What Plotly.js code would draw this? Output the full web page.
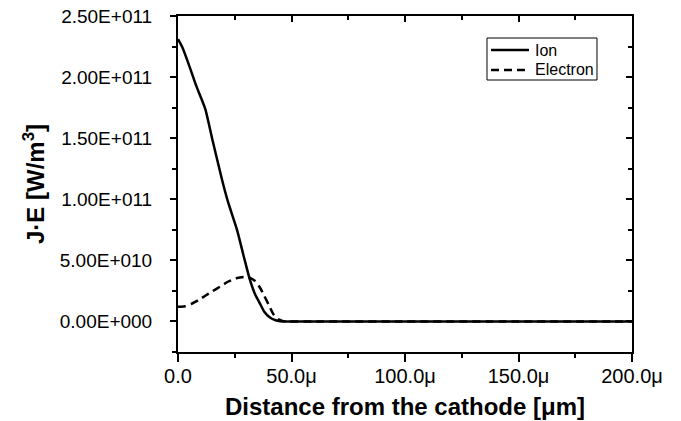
<!DOCTYPE html>
<html>
<head>
<meta charset="utf-8">
<script src="https://cdn.plot.ly/plotly-3.0.1.min.js"></script>
<style>html,body{margin:0;padding:0;background:#fff;}#chart{width:681px;height:421px;}</style>
</head>
<body>
<div id="chart"></div>
<script>
// Distance from cathode (µm) and J·E values (W/m^3)
const seriesNames = ["Ion", "Electron"];
const ionX = [0, 2, 5, 8, 12, 15, 19.4, 22, 26, 29, 31.7, 34, 36, 38, 40.5, 43, 45, 48, 60, 100, 150, 200];
const ionY = [2.31e11, 2.24e11, 2.09e11, 1.93e11, 1.74e11, 1.50e11, 1.16e11, 9.8e10, 7.5e10, 5.3e10, 3.4e10, 2.2e10, 1.5e10, 8e9, 3.3e9, 1e9, 2e8, 0, 0, 0, 0, 0];
const eleX = [0, 3, 6, 9, 12, 15, 18.5, 22, 26, 29.5, 32, 34, 36, 38, 40.5, 42, 44, 46, 48, 60, 100, 150, 200];
const eleY = [1.2e10, 1.25e10, 1.45e10, 1.75e10, 2.1e10, 2.45e10, 2.85e10, 3.25e10, 3.55e10, 3.65e10, 3.55e10, 3.3e10, 2.8e10, 2.1e10, 1.15e10, 6e9, 2e9, 5e8, 0, 0, 0, 0, 0];
const xTickVals = [0, 50, 100, 150, 200];
const xTickText = ["0.0", "50.0\u03bc", "100.0\u03bc", "150.0\u03bc", "200.0\u03bc"];
const yTickVals = [0, 5e10, 1e11, 1.5e11, 2e11, 2.5e11];
const yTickText = ["0.00E+000", "5.00E+010", "1.00E+011", "1.50E+011", "2.00E+011", "2.50E+011"];

const font = "Liberation Sans, Arial, sans-serif";
const dashStyle = "8px,5px";
const traces = [
  {x: ionX, y: ionY, name: seriesNames[0], mode: "lines", line: {color: "#000", width: 2.5, shape: "spline", smoothing: 0.6}},
  {x: eleX, y: eleY, name: seriesNames[1], mode: "lines", line: {color: "#000", width: 2.5, dash: dashStyle, shape: "spline", smoothing: 0.6}},
  {x: [0], y: [0], xaxis: "x2", yaxis: "y2", showlegend: false, hoverinfo: "skip", mode: "markers", marker: {opacity: 0}}
];
const xr = [0, 200], yr = [-2.5e10, 2.5e11];

// legend drawn in paper coordinates
const lg = {x0: 0.6806, x1: 0.9229, y0: 0.8095, y1: 0.9345, lx0: 0.6894, lx1: 0.7731, tx: 0.7819, rows: [0.8988, 0.8393]};
const shapes = [
  {type: "rect", xref: "paper", yref: "paper", x0: lg.x0, x1: lg.x1, y0: lg.y0, y1: lg.y1, line: {color: "#000", width: 1}, fillcolor: "#fff", layer: "above"},
  {type: "line", xref: "paper", yref: "paper", x0: lg.lx0, x1: lg.lx1, y0: lg.rows[0], y1: lg.rows[0], line: {color: "#000", width: 2.5}, layer: "above"},
  {type: "line", xref: "paper", yref: "paper", x0: lg.lx0, x1: lg.lx1, y0: lg.rows[1], y1: lg.rows[1], line: {color: "#000", width: 2.5, dash: dashStyle}, layer: "above"}
];
const annotations = seriesNames.map((n, i) => ({
  xref: "paper", yref: "paper", x: lg.tx, y: lg.rows[i], xanchor: "left", yanchor: "middle",
  text: n, showarrow: false, font: {size: 16, family: font, color: "#000"}
}));

const layout = {
  width: 681, height: 421,
  margin: {l: 178, r: 49, t: 16, b: 69},
  paper_bgcolor: "#fff", plot_bgcolor: "#fff",
  font: {family: font, color: "#000", size: 20},
  showlegend: false,
  shapes: shapes,
  annotations: annotations,
  xaxis: {range: xr, tickmode: "array", tickvals: xTickVals, ticktext: xTickText, ticks: "outside",
          ticklen: 8, tickwidth: 2, tickcolor: "#000", showline: true, linewidth: 2, linecolor: "#000",
          showgrid: false, zeroline: false, tickfont: {size: 20}, ticklabelstandoff: -3,
          minor: {tick0: 25, dtick: 50, ticks: "outside", ticklen: 4, tickwidth: 2, tickcolor: "#000", showgrid: false},
          title: {text: "<b>Distance from the cathode [\u03bcm]</b>", font: {size: 24}, standoff: 12}},
  yaxis: {range: yr, tickmode: "array", tickvals: yTickVals, ticktext: yTickText, ticks: "outside",
          ticklen: 6, tickwidth: 2, tickcolor: "#000", showline: true, linewidth: 2, linecolor: "#000",
          showgrid: false, zeroline: false, tickfont: {size: 19}, ticklabelstandoff: 14,
          minor: {tick0: -2.5e10, dtick: 5e10, ticks: "outside", ticklen: 4, tickwidth: 2, tickcolor: "#000", showgrid: false},
          title: {text: "<b>J\u00b7E [W/m<sup>3</sup>]</b>", font: {size: 24}, standoff: 8}},
  xaxis2: {overlaying: "x", side: "top", anchor: "y2", range: xr, tickmode: "array", tickvals: xTickVals,
           showticklabels: false, ticks: "inside", ticklen: 6, tickwidth: 2, tickcolor: "#000",
           showline: true, linewidth: 2, linecolor: "#000", showgrid: false, zeroline: false,
           minor: {tick0: 25, dtick: 50, ticks: "inside", ticklen: 4, tickwidth: 2, tickcolor: "#000", showgrid: false}},
  yaxis2: {overlaying: "y", side: "right", anchor: "x2", range: yr, tickmode: "array", tickvals: yTickVals,
           showticklabels: false, ticks: "inside", ticklen: 6, tickwidth: 2, tickcolor: "#000",
           showline: true, linewidth: 2, linecolor: "#000", showgrid: false, zeroline: false,
           minor: {tick0: -2.5e10, dtick: 5e10, ticks: "inside", ticklen: 4, tickwidth: 2, tickcolor: "#000", showgrid: false}}
};
Plotly.newPlot("chart", traces, layout, {staticPlot: true, displayModeBar: false});
</script>
</body>
</html>
